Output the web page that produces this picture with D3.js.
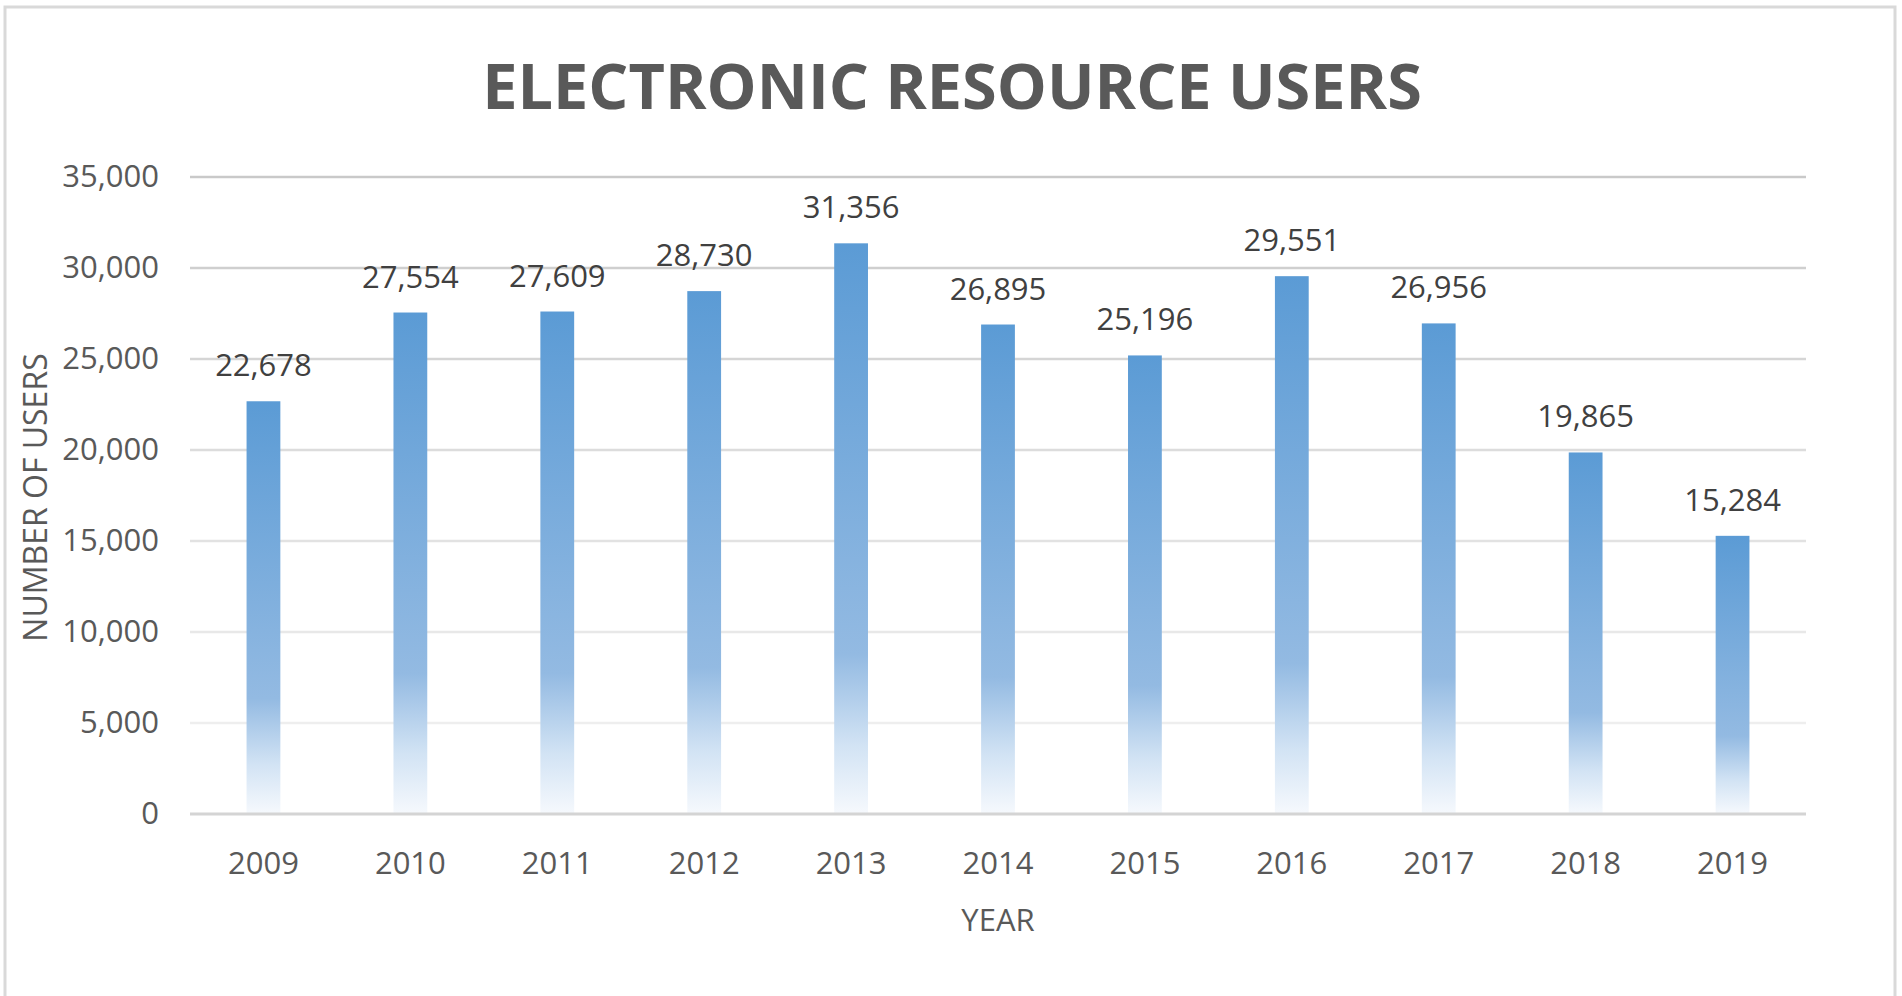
<!DOCTYPE html>
<html>
<head>
<meta charset="utf-8">
<script src="https://cdn.jsdelivr.net/npm/d3@7"></script>
<style>
  body { margin: 0; background: #fff; }
  svg { display: block; font-family: "Open Sans", sans-serif; }
</style>
</head>
<body>
<div id="container"></div>
<script>
let w = 1902;
let h = 996;

// DATA
let years = ["2009", "2010", "2011", "2012", "2013", "2014", "2015", "2016", "2017", "2018", "2019"];
let users = [22678, 27554, 27609, 28730, 31356, 26895, 25196, 29551, 26956, 19865, 15284];
let yTicks = [0, 5000, 10000, 15000, 20000, 25000, 30000, 35000];

let margin = {left: 190, right: 96, top: 177, bottom: 182};

let viz = d3.select("#container").append("svg")
  .attr("width", w)
  .attr("height", h);

// outer frame
viz.append("rect")
  .attr("x", 5).attr("y", 7)
  .attr("width", 1890).attr("height", 1000)
  .attr("fill", "white")
  .attr("stroke", "#d9d9d9")
  .attr("stroke-width", 3);

// gradient for bars
let grad = viz.append("defs").append("linearGradient")
  .attr("id", "barGrad")
  .attr("x1", 0).attr("y1", 0).attr("x2", 0).attr("y2", 1);
grad.append("stop").attr("offset", "0%").attr("stop-color", "#5b9bd5");
grad.append("stop").attr("offset", "72%").attr("stop-color", "#93bae2");
grad.append("stop").attr("offset", "88%").attr("stop-color", "#d2e3f4");
grad.append("stop").attr("offset", "100%").attr("stop-color", "#f6f9fd");

// SCALES
let xScale = d3.scaleBand().domain(years)
  .range([margin.left, w - margin.right])
  .paddingInner(0.77).paddingOuter(0.385);
let yScale = d3.scaleLinear().domain([0, 35000])
  .range([h - margin.bottom, margin.top]);

// gridlines (slightly darker towards the top)
let gridColor = d3.scaleLinear().domain([5000, 35000]).range(["#eeeeee", "#c9c9c9"]);
viz.selectAll(".grid").data(yTicks.slice(1)).enter()
  .append("line")
  .attr("class", "grid")
  .attr("x1", margin.left).attr("x2", w - margin.right)
  .attr("y1", d => yScale(d)).attr("y2", d => yScale(d))
  .attr("stroke", d => gridColor(d))
  .attr("stroke-width", 2.5);

// bars
viz.selectAll(".bar").data(users).enter()
  .append("rect")
  .attr("class", "bar")
  .attr("x", (d, i) => xScale(years[i]))
  .attr("width", xScale.bandwidth())
  .attr("y", d => yScale(d))
  .attr("height", d => yScale(0) - yScale(d))
  .attr("fill", "url(#barGrad)");

// baseline
viz.append("line")
  .attr("x1", margin.left).attr("x2", w - margin.right)
  .attr("y1", yScale(0)).attr("y2", yScale(0))
  .attr("stroke", "#d4d4d4")
  .attr("stroke-width", 3);

// data labels
viz.selectAll(".lbl").data(users).enter()
  .append("text")
  .attr("class", "lbl")
  .attr("x", (d, i) => xScale(years[i]) + xScale.bandwidth() / 2)
  .attr("y", d => yScale(d) - 25)
  .attr("text-anchor", "middle")
  .attr("font-size", 31)
  .attr("fill", "#404040")
  .text(d => d3.format(",")(d));

// AXES
let yAxis = d3.axisLeft(yScale).tickValues(yTicks).tickSize(0).tickPadding(31)
  .tickFormat(d3.format(","));
let yG = viz.append("g").attr("transform", "translate(" + margin.left + ",0)").call(yAxis);
yG.select(".domain").remove();
yG.selectAll("text").attr("font-size", 31).attr("font-family", "Open Sans").attr("fill", "#595959");

let xAxis = d3.axisBottom(xScale).tickSize(0).tickPadding(38);
let xG = viz.append("g").attr("transform", "translate(0," + yScale(0) + ")").call(xAxis);
xG.select(".domain").remove();
xG.selectAll("text").attr("font-size", 31).attr("font-family", "Open Sans").attr("fill", "#595959");

// titles
viz.append("text")
  .attr("x", 952).attr("y", 109)
  .attr("text-anchor", "middle")
  .attr("font-size", 63)
  .attr("font-weight", "bold")
  .attr("fill", "#595959")
  .text("ELECTRONIC RESOURCE USERS");

viz.append("text")
  .attr("x", (margin.left + w - margin.right) / 2).attr("y", 931)
  .attr("text-anchor", "middle")
  .attr("font-size", 31)
  .attr("fill", "#595959")
  .text("YEAR");

viz.append("text")
  .attr("transform", "translate(47," + ((h - margin.bottom + margin.top) / 2 + 2) + ") rotate(-90)")
  .attr("text-anchor", "middle")
  .attr("font-size", 32)
  .attr("fill", "#595959")
  .text("NUMBER OF USERS");
</script>
</body>
</html>
